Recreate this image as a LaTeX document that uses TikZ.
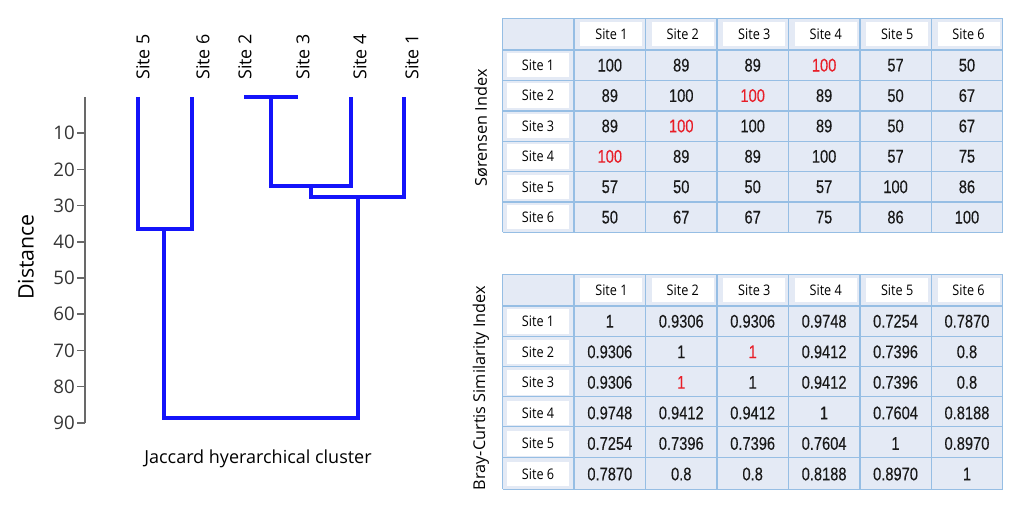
\documentclass[tikz,border=0pt]{standalone}
\usepackage{fontspec}
\setsansfont{Open Sans}
\newfontfamily\numfont[FakeBold=0.2]{Liberation Sans}
\usepackage{graphicx}
\usepackage{xcolor}
\usetikzlibrary{positioning}
\definecolor{dendblue}{RGB}{20,20,250}
\definecolor{gridblue}{RGB}{150,190,228}
\definecolor{cellbg}{RGB}{228,234,245}
\definecolor{hired}{RGB}{232,30,40}
\definecolor{axisgray}{RGB}{105,105,105}
\newcommand{\tall}[1]{\scalebox{1}[1.25]{#1}}
\newcommand{\tallish}[1]{\scalebox{1}[1.15]{#1}}
\newcommand{\hi}[1]{\textcolor{hired}{#1}}

\tikzset{
  branch/.style={dendblue,line width=2.5pt},
  leaf/.style={rotate=90,anchor=west,inner sep=0pt,font=\sffamily\fontsize{13.4}{15}\selectfont},
  ticklabel/.style={anchor=east,inner sep=0pt,text=black!80,font=\sffamily\fontsize{14}{16}\selectfont},
  sidetitle/.style={rotate=90,inner sep=0pt,font=\sffamily\fontsize{12.2}{14}\selectfont},
  labelbox/.style={fill=white,inner sep=0pt,minimum width=46.5pt,minimum height=18.4pt,font=\sffamily\fontsize{9.5}{11}\selectfont},
  cell/.style={inner sep=0pt,text=black!90,font=\numfont\fontsize{11}{12}\selectfont},
  gridline/.style={gridblue,line width=1pt}
}

\begin{document}
\begin{tikzpicture}[x=0.75pt,y=-0.75pt]
  \useasboundingbox (0,0) rectangle (1025,531);

  % dendrogram leaves
  \coordinate (s5) at (138,97);
  \coordinate (s6) at (192,97);
  \coordinate (s2) at (244,97);
  \coordinate (s3) at (298,97);
  \coordinate (s4) at (351,97);
  \coordinate (s1) at (404,97);
  \node[leaf] (l5) at (143,80) {Site 5};
  \node[leaf] (l6) at (203,80) {Site 6};
  \node[leaf] (l2) at (245,80) {Site 2};
  \node[leaf] (l3) at (303,80) {Site 3};
  \node[leaf] (l4) at (360,80) {Site 4};
  \node[leaf] (l1) at (412,80) {Site 1};

  % merge points
  \coordinate (c23) at (271,97);
  \coordinate (b23) at (271,186);
  \coordinate (b4) at (351,186);
  \coordinate (c234) at (311,186);
  \coordinate (b234) at (311,197);
  \coordinate (b1) at (404,197);
  \coordinate (c1234) at (358,197);
  \coordinate (b1234) at (358,418);
  \coordinate (b5) at (138,229);
  \coordinate (b6) at (192,229);
  \coordinate (c56) at (164,229);
  \coordinate (b56) at (164,418);

  \draw[branch] (s2) -- (s3);
  \draw[branch] (c23) -- (b23) -- (b4) -- (s4);
  \draw[branch] (c234) -- (b234) -- (b1) -- (s1);
  \draw[branch] (s5) -- (b5) -- (b6) -- (s6);
  \draw[branch] (c56) -- (b56) -- (b1234) -- (c1234);

  % distance axis
  \coordinate (ax0) at (85,97);
  \coordinate (ax1) at (85,423);
  \draw[axisgray,line width=1.6pt] (ax0) -- (ax1);
  \foreach \d in {10,20,...,90}{
    \draw[axisgray,line width=1.3pt] (77,97+3.62*\d) -- (85,97+3.62*\d);
    \node[ticklabel] (t\d) at (75,97+3.62*\d) {\d};
  }
  \node[rotate=90,font=\sffamily\fontsize{16}{18}\selectfont] (dist) at (26,257) {Distance};
  \node[font=\sffamily\fontsize{13.5}{16}\selectfont] (jac) at (258,459) {Jaccard hyerarchical cluster};

  % Sorensen table
  \node[sidetitle] (sor) at (481,128) {Sørensen Index};
  \fill[cellbg] (502.7,18.3) rectangle (1002.7,232.5);
  \foreach \k in {0,...,7}
    \draw[gridline] (502.7+71.43*\k,18.3) -- (502.7+71.43*\k,232.5);
  \foreach \y in {18.3,50,80.7,111,141.7,171.7,201.9,232.5}
    \draw[gridline] (502.7,\y) -- (1002.7,\y);
  \foreach \k in {1,...,6}
    \node[labelbox] (sh\k) at (540+71.43*\k,34) {\tallish{Site \k}};
  \foreach \vals [count=\r] in {
      {100,89,89,\hi{100},57,50},
      {89,100,\hi{100},89,50,67},
      {89,\hi{100},100,89,50,67},
      {\hi{100},89,89,100,57,75},
      {57,50,50,57,100,86},
      {50,67,67,75,86,100}}{
    \node[labelbox] (sr\r) at (538,50+30.4*\r-15.2) {\tallish{Site \r}};
    \foreach \v [count=\c] in \vals
      \node[cell] (so\r\c) at (538.4+71.43*\c,50+30.4*\r-15.2) {\tall{\v}};
  }

  % Bray-Curtis table
  \node[sidetitle] (bc) at (481,388) {Bray-Curtis Similarity Index};
  \fill[cellbg] (502.7,274.3) rectangle (1002.7,489.3);
  \foreach \k in {0,...,7}
    \draw[gridline] (502.7+71.43*\k,274.3) -- (502.7+71.43*\k,489.3);
  \foreach \y in {274.3,306,336.7,366.7,396.7,426.7,457.3,489.3}
    \draw[gridline] (502.7,\y) -- (1002.7,\y);
  \foreach \k in {1,...,6}
    \node[labelbox] (bh\k) at (540+71.43*\k,290) {\tallish{Site \k}};
  \foreach \vals [count=\r] in {
      {1,0.9306,0.9306,0.9748,0.7254,0.7870},
      {0.9306,1,\hi{1},0.9412,0.7396,0.8},
      {0.9306,\hi{1},1,0.9412,0.7396,0.8},
      {0.9748,0.9412,0.9412,1,0.7604,0.8188},
      {0.7254,0.7396,0.7396,0.7604,1,0.8970},
      {0.7870,0.8,0.8,0.8188,0.8970,1}}{
    \node[labelbox] (br\r) at (538,306+30.55*\r-15.27) {\tallish{Site \r}};
    \foreach \v [count=\c] in \vals
      \node[cell] (bv\r\c) at (538.4+71.43*\c,306+30.55*\r-15.27) {\tall{\v}};
  }
\end{tikzpicture}
\end{document}
